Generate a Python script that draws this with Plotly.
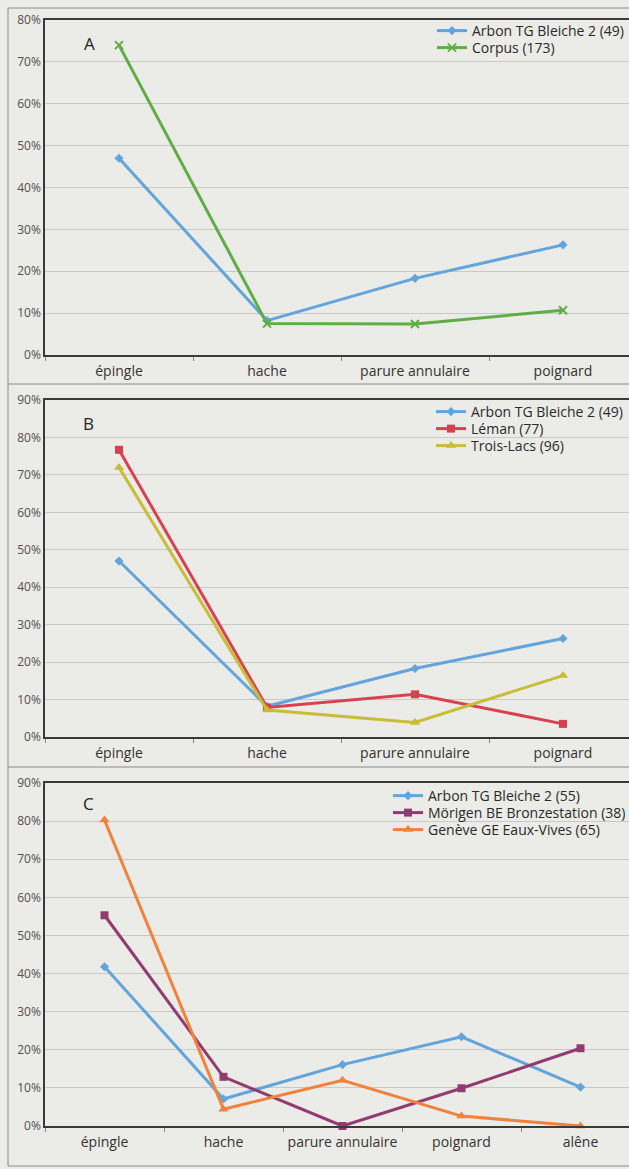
import plotly.graph_objects as go

W, H = 629, 1169

cats4 = ["épingle", "hache", "parure annulaire", "poignard"]
cats5 = ["épingle", "hache", "parure annulaire", "poignard", "alêne"]

# Panel A
a_arbon = [47.0, 8.2, 18.3, 26.3]
a_corpus = [74.0, 7.5, 7.4, 10.7]
# Panel B
b_arbon = [47.0, 8.2, 18.3, 26.3]
b_leman = [76.7, 7.9, 11.4, 3.5]
b_troislacs = [72.0, 7.2, 3.9, 16.4]
# Panel C
c_arbon = [41.8, 7.1, 16.1, 23.4, 10.2]
c_morigen = [55.3, 12.9, 0.0, 9.9, 20.4]
c_geneve = [80.3, 4.4, 12.0, 2.6, 0.0]

BLUE = "#62a4dc"
GREEN = "#5fae45"
RED = "#d8424f"
OLIVE = "#c9bc37"
PURPLE = "#923b70"
ORANGE = "#f2813b"
BG = "#ebebe8"
FONT = "Open Sans"


def py(px):
    return 1 - px / H


fig = go.Figure()
legend_layout = {}
leg_count = [0]


def add_line(x, y, name, color, symbol, size, xa, ya, leg_x, leg_y):
    # one legend per entry so each row sits exactly where wanted
    leg_count[0] += 1
    key = "legend" if leg_count[0] == 1 else f"legend{leg_count[0]}"
    legend_layout[key] = dict(
        x=leg_x / W, y=py(leg_y), xanchor="left", yanchor="middle",
        font=dict(family=FONT, size=14, color="#2a2a2a"),
        bgcolor="rgba(0,0,0,0)", borderwidth=0, itemwidth=30,
    )
    fig.add_trace(go.Scatter(
        x=x, y=y, name=name, mode="lines+markers",
        line=dict(color=color, width=3),
        marker=dict(symbol=symbol, size=size, color=color,
                    line=dict(color=color, width=2 if "open" in symbol else 0)),
        xaxis=xa, yaxis=ya, legend=key, cliponaxis=False, showlegend=True,
    ))


add_line(cats4, a_arbon, "Arbon TG Bleiche 2 (49)", BLUE, "diamond", 7, "x", "y", 432, 31)
add_line(cats4, a_corpus, "Corpus (173)", GREEN, "x-thin-open", 8, "x", "y", 432, 48)

add_line(cats4, b_arbon, "Arbon TG Bleiche 2 (49)", BLUE, "diamond", 7, "x2", "y2", 431, 412)
add_line(cats4, b_leman, "Léman (77)", RED, "square", 8, "x2", "y2", 431, 429)
add_line(cats4, b_troislacs, "Trois-Lacs (96)", OLIVE, "triangle-up", 9, "x2", "y2", 431, 446)

add_line(cats5, c_arbon, "Arbon TG Bleiche 2 (55)", BLUE, "diamond", 7, "x3", "y3", 388, 796)
add_line(cats5, c_morigen, "Mörigen BE Bronzestation (38)", PURPLE, "square", 8, "x3", "y3", 388, 813)
add_line(cats5, c_geneve, "Genève GE Eaux-Vives (65)", ORANGE, "triangle-up", 9, "x3", "y3", 388, 830)

x_left = 45 / W

xcommon = dict(
    domain=[x_left, 1], showline=True, linecolor="#3a3a3a", linewidth=1.5,
    mirror=True, showgrid=False, ticks="outside", tickson="boundaries",
    ticklen=4, tickcolor="#888", tickfont=dict(family=FONT, size=14, color="#333"),
    fixedrange=True, zeroline=False, ticklabelstandoff=2, tickangle=0,
    automargin=False,
)
ycommon = dict(
    showline=True, linecolor="#3a3a3a", linewidth=1.5, showgrid=True,
    gridcolor="#c9c9c6", gridwidth=1, dtick=10, ticksuffix="%",
    tickfont=dict(family=FONT, size=12, color="#505050"), ticks="",
    zeroline=False, fixedrange=True, automargin=False,
)

# category band widths: 148 px for 4 categories, 119 px for 5
r4 = [-0.5, -0.5 + (W - 45) / 148]
r5 = [-0.5, -0.5 + (W - 45) / 119]

fig.update_layout(
    xaxis=dict(xcommon, range=r4, anchor="y", categoryorder="array", categoryarray=cats4),
    yaxis=dict(ycommon, domain=[py(355), py(20)], range=[0, 80], anchor="x"),
    xaxis2=dict(xcommon, range=r4, anchor="y2", categoryorder="array", categoryarray=cats4),
    yaxis2=dict(ycommon, domain=[py(737), py(400)], range=[0, 90], anchor="x2"),
    xaxis3=dict(xcommon, range=r5, anchor="y3", categoryorder="array", categoryarray=cats5),
    yaxis3=dict(ycommon, domain=[py(1126), py(783)], range=[0, 90], anchor="x3"),
)
fig.update_layout(**legend_layout)

# panel letters
for txt, xp, yp in [("A", 89, 43), ("B", 88, 423), ("C", 88, 803)]:
    fig.add_annotation(text=txt, x=xp / W, y=py(yp), xref="paper", yref="paper",
                       showarrow=False, font=dict(family=FONT, size=17, color="#222"),
                       xanchor="center", yanchor="middle")

# panel frames
frame = dict(color="#8a8a8a", width=1)
shapes = [
    dict(type="line", xref="paper", yref="paper", x0=8 / W, x1=1, y0=py(8), y1=py(8), line=frame),
    dict(type="line", xref="paper", yref="paper", x0=8 / W, x1=1, y0=py(384), y1=py(384), line=frame),
    dict(type="line", xref="paper", yref="paper", x0=8 / W, x1=1, y0=py(767), y1=py(767), line=frame),
    dict(type="line", xref="paper", yref="paper", x0=8 / W, x1=1, y0=py(1166), y1=py(1166), line=frame),
    dict(type="line", xref="paper", yref="paper", x0=8 / W, x1=8 / W, y0=py(8), y1=py(1166), line=frame),
]

fig.update_layout(
    width=W, height=H, margin=dict(l=0, r=0, t=0, b=0, autoexpand=False),
    paper_bgcolor=BG, plot_bgcolor=BG, shapes=shapes,
    font=dict(family=FONT),
)

fig.write_html("out.html")
